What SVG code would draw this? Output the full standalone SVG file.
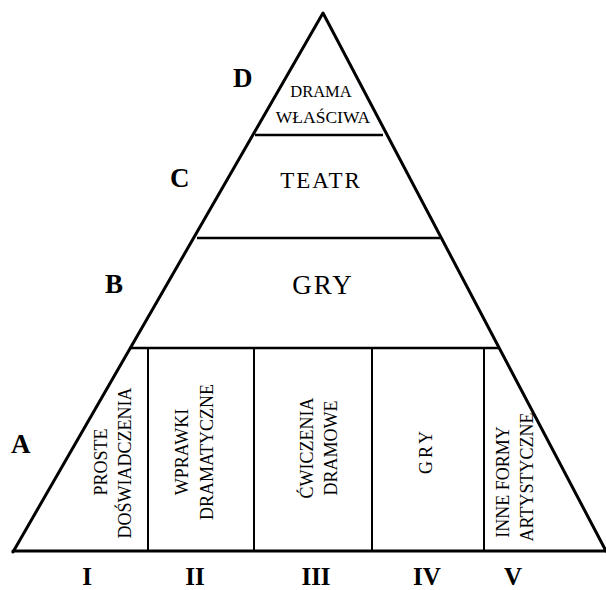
<svg xmlns="http://www.w3.org/2000/svg" width="606" height="590" viewBox="0 0 606 590">
<style>
.edge{stroke:#000;stroke-width:3;fill:none;stroke-linecap:round;stroke-linejoin:round}
.sep{stroke:#000;stroke-width:2.5;fill:none}
.col{stroke:#000;stroke-width:2;fill:none}
.lvl{font-family:"Liberation Serif","Times New Roman",serif;font-weight:bold;font-size:27px;fill:#000}
.num{font-family:"Liberation Serif","Times New Roman",serif;font-weight:bold;font-size:25px;fill:#000;text-anchor:middle}
.lab{font-family:"Liberation Serif","Times New Roman",serif;font-size:18px;fill:#000;text-anchor:middle}
</style>
<rect width="606" height="590" fill="#fff"/>
<g id="connectors">
<path class="edge" d="M13,552 L323,13 L606,551"/>
<line class="edge" x1="13" y1="551" x2="606" y2="551"/>
<line class="sep" x1="255" y1="135" x2="383" y2="135"/>
<line class="sep" x1="197" y1="238" x2="440" y2="238"/>
<line class="sep" x1="131" y1="348" x2="500" y2="348"/>
<line class="col" x1="148" y1="348" x2="148" y2="551"/>
<line class="col" x1="254" y1="348" x2="254" y2="551"/>
<line class="col" x1="372" y1="348" x2="372" y2="551"/>
<line class="col" x1="484" y1="348" x2="484" y2="551"/>
</g>
<g id="level-D">
<text class="lvl" x="233" y="87">D</text>
<text class="lab" x="321" y="97" style="font-size:16.5px">DRAMA</text>
<text class="lab" x="323" y="123" style="font-size:17.5px">WŁAŚCIWA</text>
</g>
<g id="level-C">
<text class="lvl" x="170" y="187">C</text>
<text class="lab" x="321" y="188" style="font-size:23px;letter-spacing:2px">TEATR</text>
</g>
<g id="level-B">
<text class="lvl" x="105" y="293">B</text>
<text class="lab" x="323" y="294" style="font-size:27px;letter-spacing:2px">GRY</text>
</g>
<g id="level-A">
<text class="lvl" x="11" y="453">A</text>
</g>
<g id="col-I">
<text class="lab" transform="translate(107,462) rotate(-90)">PROSTE</text>
<text class="lab" transform="translate(131,463) rotate(-90)">DOŚWIADCZENIA</text>
<text class="num" x="87" y="585">I</text>
</g>
<g id="col-II">
<text class="lab" transform="translate(188,452) rotate(-90)">WPRAWKI</text>
<text class="lab" transform="translate(213,452) rotate(-90)">DRAMATYCZNE</text>
<text class="num" x="195" y="585">II</text>
</g>
<g id="col-III">
<text class="lab" transform="translate(313,448) rotate(-90)">ĆWICZENIA</text>
<text class="lab" transform="translate(337,448) rotate(-90)">DRAMOWE</text>
<text class="num" x="316" y="585">III</text>
</g>
<g id="col-IV">
<text class="lab" transform="translate(432,451) rotate(-90)" style="letter-spacing:3px">GRY</text>
<text class="num" x="427" y="585">IV</text>
</g>
<g id="col-V">
<text class="lab" transform="translate(509,482) rotate(-90)">INNE FORMY</text>
<text class="lab" transform="translate(533,477) rotate(-90)">ARTYSTYCZNE</text>
<text class="num" x="513" y="585">V</text>
</g>
</svg>
